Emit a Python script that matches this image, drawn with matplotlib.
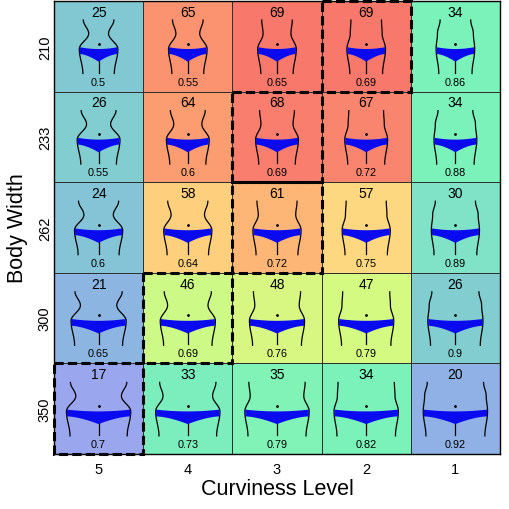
import numpy as np
import matplotlib
matplotlib.use('Agg')
import matplotlib.pyplot as plt
from matplotlib.colors import LinearSegmentedColormap
from matplotlib.patches import Rectangle, Polygon

plt.rcParams['font.family'] = ['Liberation Sans', 'DejaVu Sans']

curviness = [5, 4, 3, 2, 1]
body_width = [210, 233, 262, 300, 350]
counts = [[25, 65, 69, 69, 34],
          [26, 64, 68, 67, 34],
          [24, 58, 61, 57, 30],
          [21, 46, 48, 47, 26],
          [17, 33, 35, 34, 20]]
ratios = [[0.5, 0.55, 0.65, 0.69, 0.86],
          [0.55, 0.6, 0.69, 0.72, 0.88],
          [0.6, 0.64, 0.72, 0.75, 0.89],
          [0.65, 0.69, 0.76, 0.79, 0.9],
          [0.7, 0.73, 0.79, 0.82, 0.92]]
# curviness level picked in each body width row (dashed box)
picked = [2, 3, 3, 4, 5]

# colour anchors (count value -> colour)
anchor_val = [17, 21, 25, 30, 34, 47, 57, 61, 65, 69]
anchor_col = ['#9aa6ee', '#8cb6e2', '#82c8d2', '#80e2c6', '#7af2ba',
              '#d4fa82', '#fed880', '#fdb676', '#fb9470', '#f8786c']
vmin, vmax = min(anchor_val), max(anchor_val)
cmap = LinearSegmentedColormap.from_list(
    'cells', [((v - vmin) / (vmax - vmin), c) for v, c in zip(anchor_val, anchor_col)])

fig = plt.figure(figsize=(5.1, 5.1), dpi=100)
ax = fig.add_axes([54/510, 1-455/510, 446/510, 453/510])

ax.pcolormesh(np.arange(6), np.arange(6), np.array(counts), cmap=cmap,
              vmin=vmin, vmax=vmax, edgecolors='#303030', linewidth=0.5)
ax.set_xlim(0, 5)
ax.set_ylim(5, 0)


def side_curve(ys, xs, n=20):
    # cosine easing between the key points -> flat at waist / hip
    out_y, out_x = [], []
    for k in range(len(ys) - 1):
        t = np.linspace(0, 1, n)
        e = (1 - np.cos(np.pi * t)) / 2
        out_y.append(ys[k] + (ys[k+1] - ys[k]) * t)
        out_x.append(xs[k] + (xs[k+1] - xs[k]) * e)
    return np.concatenate(out_y), np.concatenate(out_x)


def draw_body(ax, xc, y0, width, level):
    # little torso sketch, wider with body width, curvier with level
    c = (level - 1) / 4.0
    H = 0.00103 * width
    half = [H - 0.045, H - 0.015 - 0.09*c, H, H - 0.03 - 0.01*c]
    ys = [0.21, 0.36, 0.53, 0.80]
    yy, xx = side_curve(ys, half)
    for s in (-1, 1):
        ax.plot(xc + s*xx, y0 + yy, color='black', lw=0.9, zorder=3)
    # pants
    hb = H - 0.005
    bx = np.linspace(-hb, hb, 41)
    top = 0.51 + 0.02*(1 - (bx/hb)**2)
    bot = 0.585 + 0.085*(1 - np.abs(bx)/hb)**1.6
    pts = np.column_stack([np.r_[bx, bx[::-1]] + xc, np.r_[top, bot[::-1]] + y0])
    ax.add_patch(Polygon(pts, closed=True, facecolor='#0a0af0', edgecolor='none', zorder=4))
    ax.plot([xc, xc], [y0 + 0.66, y0 + 0.79], color='black', lw=0.9, zorder=3)
    ax.plot([xc], [y0 + 0.47], 'o', color='black', ms=1.0, zorder=5)


for j, w in enumerate(body_width):
    for i, lv in enumerate(curviness):
        draw_body(ax, i + 0.5, j, w, lv)
        ax.text(i + 0.5, j + 0.12, str(counts[j][i]), ha='center', va='center', fontsize=10, zorder=6)
        ax.text(i + 0.5, j + 0.89, str(ratios[j][i]), ha='center', va='center', fontsize=7.8, zorder=6)
    i = curviness.index(picked[j])
    ax.add_patch(Rectangle((i, j), 1, 1, fill=False, edgecolor='black', lw=2.2,
                           ls=(0, (3, 1.4)), clip_on=False, zorder=8))

ax.set_xticks(np.arange(5) + 0.5)
ax.set_xticklabels([str(v) for v in curviness], fontsize=10.5)
ax.set_yticks(np.arange(5) + 0.5)
ax.set_yticklabels([str(v) for v in body_width], fontsize=10.5, rotation=90, va='center')
ax.tick_params(axis='x', length=0, pad=5.8)
ax.tick_params(axis='y', length=0, pad=1.5)
ax.set_xlabel('Curviness Level', fontsize=15.5, va='center')
ax.set_ylabel('Body Width', fontsize=15.5, va='center')
ax.xaxis.set_label_coords(0.5, -0.077)
ax.yaxis.set_label_coords(-0.081, 0.5)
for sp in ax.spines.values():
    sp.set_linewidth(1.0)

fig.savefig('out.png', dpi=100)
